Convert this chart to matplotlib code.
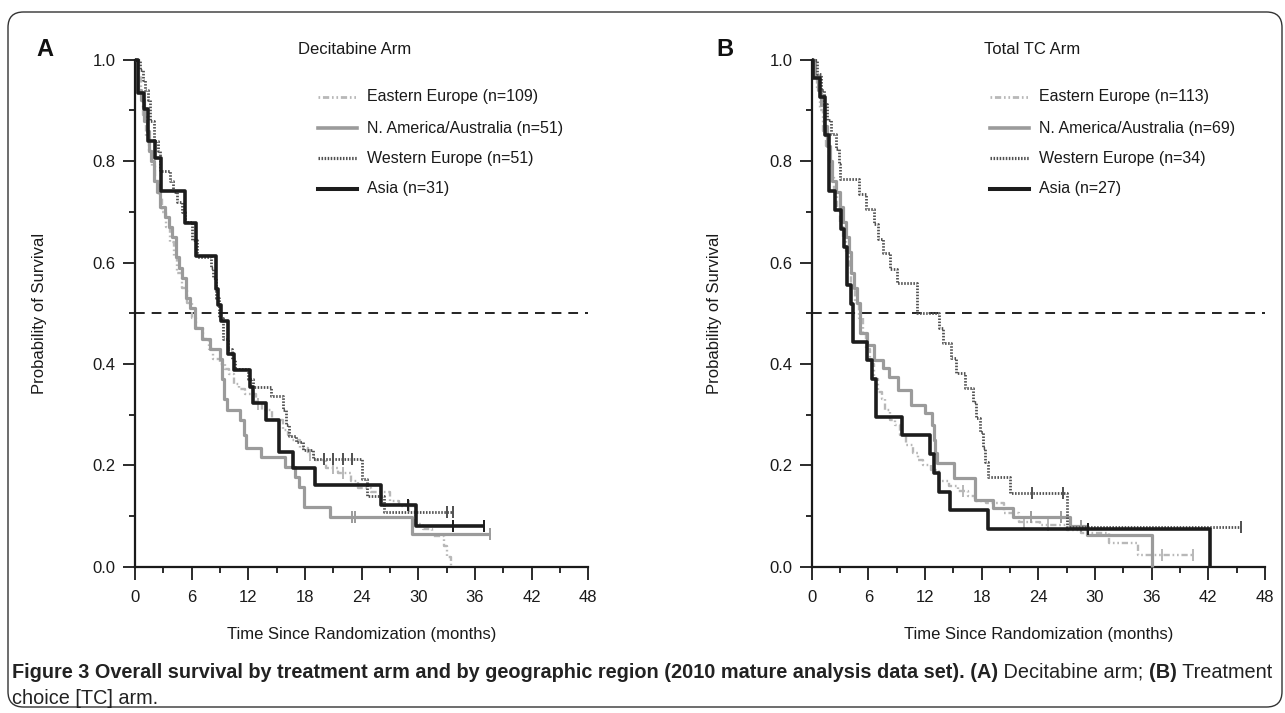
import matplotlib
matplotlib.use("Agg")
import matplotlib.pyplot as plt
import numpy as np
from matplotlib.lines import Line2D
from matplotlib.patches import FancyBboxPatch
from matplotlib import font_manager

plt.rcParams['lines.scale_dashes'] = False

# ---------------- data (Kaplan-Meier step curves) ----------------
x_ticks = [0, 6, 12, 18, 24, 30, 36, 42, 48]
y_ticks = [0.0, 0.2, 0.4, 0.6, 0.8, 1.0]

legend_a = ["Eastern Europe (n=109)", "N. America/Australia (n=51)",
            "Western Europe (n=51)", "Asia (n=31)"]
legend_b = ["Eastern Europe (n=113)", "N. America/Australia (n=69)",
            "Western Europe (n=34)", "Asia (n=27)"]

# Panel A: Decitabine arm
a_ee_t = [0, 0.3, 0.6, 0.9, 1.2, 1.5, 1.8, 2.1, 2.5, 2.9, 3.3, 3.7, 4.1, 4.5, 5.0, 5.5, 6.0, 6.5,
          7.2, 7.8, 8.3, 9.0, 9.5, 10.0, 10.5, 11.0, 11.6, 12.8, 13.5, 14.5, 15.7, 16.2, 16.6,
          17.5, 18.3, 19.1, 20.2, 21.5, 22.9, 23.6, 25.0, 27.0, 28.0, 29.6, 30.5, 31.5, 32.7,
          33.0, 33.5]
a_ee_s = [1.0, 0.97, 0.93, 0.89, 0.85, 0.82, 0.79, 0.76, 0.73, 0.70, 0.67, 0.64, 0.61, 0.58,
          0.55, 0.52, 0.49, 0.47, 0.45, 0.43, 0.41, 0.40, 0.39, 0.38, 0.36, 0.35, 0.34, 0.32,
          0.31, 0.29, 0.27, 0.26, 0.25, 0.235, 0.22, 0.21, 0.195, 0.185, 0.17, 0.155, 0.147,
          0.13, 0.12, 0.085, 0.075, 0.06, 0.04, 0.02, 0.0]
a_ee_end = 33.5
a_ee_cens = [13.0, 18.5, 21.0, 22.0, 26.0, 29.0]

a_na_t = [0, 0.3, 0.6, 1.0, 1.3, 1.5, 1.7, 2.0, 2.3, 2.7, 3.2, 3.6, 3.9, 4.3, 4.7, 5.0, 5.4,
          5.8, 6.35, 7.1, 7.9, 9.0, 9.2, 9.4, 9.7, 11.1, 11.5, 11.8, 13.3, 15.9, 16.9, 17.4,
          17.9, 20.7, 29.3]
a_na_s = [1.0, 0.94, 0.92, 0.88, 0.86, 0.82, 0.80, 0.76, 0.74, 0.71, 0.69, 0.67, 0.65, 0.61,
          0.59, 0.57, 0.53, 0.51, 0.47, 0.45, 0.43, 0.41, 0.37, 0.33, 0.31, 0.29, 0.26, 0.235,
          0.216, 0.196, 0.176, 0.157, 0.118, 0.098, 0.065]
a_na_end = 37.6
a_na_cens = [23.0, 23.3, 37.6]

a_we_t = [0, 0.5, 0.8, 1.1, 1.4, 1.6, 2.0, 2.4, 2.6, 3.7, 4.0, 4.5, 5.0, 5.3, 6.0, 6.6, 8.0,
          8.3, 8.6, 8.9, 9.3, 9.8, 10.3, 10.6, 12.0, 12.5, 14.4, 15.7, 16.0, 16.3, 17.0, 17.8,
          18.8, 24.0, 24.6, 26.4]
a_we_s = [1.0, 0.98, 0.96, 0.94, 0.92, 0.88, 0.84, 0.82, 0.78, 0.76, 0.74, 0.72, 0.70, 0.68,
          0.645, 0.61, 0.59, 0.57, 0.53, 0.49, 0.45, 0.43, 0.41, 0.39, 0.37, 0.355, 0.337, 0.31,
          0.28, 0.258, 0.245, 0.23, 0.213, 0.173, 0.14, 0.108]
a_we_end = 33.7
a_we_cens = [20.0, 21.0, 22.0, 23.0, 33.0, 33.7]

a_as_t = [0, 0.3, 1.0, 1.4, 2.1, 2.8, 5.25, 6.5, 8.55, 8.8, 9.1, 9.9, 10.5, 12.2, 12.5, 13.9,
          15.2, 16.7, 19.1, 26.1, 29.8]
a_as_s = [1.0, 0.935, 0.903, 0.839, 0.806, 0.742, 0.677, 0.613, 0.548, 0.516, 0.484, 0.419,
          0.387, 0.355, 0.323, 0.290, 0.226, 0.194, 0.161, 0.121, 0.081]
a_as_end = 37.0
a_as_cens = [28.9, 33.7, 37.0]

# Panel B: Total TC arm
b_ee_t = [0, 0.3, 0.6, 0.9, 1.2, 1.5, 1.8, 2.1, 2.4, 2.7, 3.0, 3.3, 3.6, 3.9, 4.2, 4.6, 5.0,
          5.4, 5.8, 6.2, 6.6, 7.0, 7.4, 7.8, 8.3, 8.8, 9.4, 10.0, 10.7, 11.3, 11.8, 12.6, 13.5,
          14.5, 15.5, 16.6, 17.3, 18.5, 20.4, 22.0, 24.2, 27.0, 28.5, 31.5, 34.5]
b_ee_s = [1.0, 0.97, 0.94, 0.90, 0.86, 0.83, 0.80, 0.77, 0.74, 0.71, 0.68, 0.65, 0.62, 0.59,
          0.55, 0.52, 0.49, 0.46, 0.43, 0.40, 0.37, 0.345, 0.33, 0.31, 0.29, 0.28, 0.26, 0.24,
          0.225, 0.21, 0.20, 0.19, 0.17, 0.16, 0.15, 0.14, 0.13, 0.125, 0.105, 0.089, 0.082,
          0.072, 0.066, 0.046, 0.023]
b_ee_end = 40.4
b_ee_cens = [16.0, 22.5, 25.0, 37.1, 40.4]

b_na_t = [0, 0.4, 0.7, 1.0, 1.3, 1.6, 1.9, 2.2, 2.6, 3.0, 3.3, 3.6, 3.9, 4.2, 4.5, 4.8, 5.1,
          5.9, 6.6, 7.5, 8.2, 9.1, 10.5, 12.0, 12.7, 12.9, 13.1, 13.3, 15.1, 17.3, 19.2, 21.3,
          27.4, 29.1, 36.0]
b_na_s = [1.0, 0.97, 0.94, 0.91, 0.87, 0.83, 0.80, 0.76, 0.74, 0.71, 0.68, 0.65, 0.62, 0.58,
          0.55, 0.52, 0.46, 0.437, 0.408, 0.391, 0.375, 0.349, 0.319, 0.303, 0.28, 0.25, 0.225,
          0.204, 0.174, 0.132, 0.115, 0.099, 0.08, 0.062, 0.0]
b_na_end = 36.0
b_na_cens = [23.2, 26.4, 28.5]

b_we_t = [0, 0.6, 1.0, 1.3, 1.6, 2.0, 2.6, 2.9, 3.0, 5.0, 5.8, 6.6, 7.0, 7.5, 8.3, 9.0, 11.1,
          13.5, 13.9, 14.7, 15.3, 16.2, 17.1, 17.4, 17.8, 18.1, 18.4, 18.7, 21.0, 27.0]
b_we_s = [1.0, 0.971, 0.941, 0.912, 0.882, 0.853, 0.824, 0.794, 0.765, 0.735, 0.706, 0.676,
          0.647, 0.618, 0.588, 0.559, 0.5, 0.471, 0.441, 0.412, 0.382, 0.353, 0.324, 0.294,
          0.265, 0.235, 0.206, 0.176, 0.145, 0.079]
b_we_end = 45.5
b_we_cens = [23.3, 26.6, 45.5]

b_as_t = [0, 0.15, 0.9, 1.4, 1.85, 2.5, 3.1, 3.45, 3.7, 4.2, 4.4, 5.85, 6.35, 6.8, 9.6, 12.5,
          12.9, 13.5, 14.65, 18.7, 42.2]
b_as_s = [1.0, 0.963, 0.926, 0.852, 0.741, 0.704, 0.667, 0.630, 0.556, 0.519, 0.444, 0.407,
          0.370, 0.296, 0.259, 0.222, 0.185, 0.148, 0.111, 0.074, 0.0]
b_as_end = 42.2
b_as_cens = [29.3]

# ---------------- styles ----------------
styles = [
    dict(color='#b8b8b8', lw=1.7, ls=(0, (1.2, 2.0, 4.5, 2.0, 1.2, 2.0))),
    dict(color='#9b9b9b', lw=2.3, ls='-'),
    dict(color='#505050', lw=2.0, ls=(0, (1.1, 1.1))),
    dict(color='#1c1c1c', lw=2.6, ls='-'),
]

W, H = 1285, 713
fig = plt.figure(figsize=(W / 100, H / 100), dpi=100)


def fx(x):
    return x / W


def fy(y):
    return 1 - y / H


names = {f.name for f in font_manager.fontManager.ttflist}
SANS = 'Liberation Sans'
CAP = 'Liberation Sans Narrow' if 'Liberation Sans Narrow' in names else 'Liberation Sans'

# frame
frame = FancyBboxPatch((fx(8), fy(707)), fx(1282) - fx(8), fy(12) - fy(707),
                       boxstyle="round,pad=0,rounding_size=0.012",
                       transform=fig.transFigure, fill=False, lw=1.0,
                       edgecolor='#333333', mutation_aspect=W / H)
fig.add_artist(frame)


def step_value(t, s, x):
    idx = np.searchsorted(np.asarray(t), np.asarray(x), side='right') - 1
    return np.asarray(s)[idx]


def draw_panel(left_px, curves, labels, title, letter, letter_x, title_x, leg_x, ylabel_x):
    ax = fig.add_axes([fx(left_px), fy(566.7), (453.3) / W, (566.7 - 59.7) / H])
    ax.set_xlim(0, 48)
    ax.set_ylim(0, 1)
    for sp in ['top', 'right']:
        ax.spines[sp].set_visible(False)
    for sp in ['left', 'bottom']:
        ax.spines[sp].set_linewidth(1.6)
        ax.spines[sp].set_color('#1a1a1a')
    ax.set_xticks(x_ticks)
    ax.set_xticks([v + 3 for v in x_ticks[:-1]], minor=True)
    ax.set_yticks(y_ticks)
    ax.set_yticks([v + 0.1 for v in y_ticks[:-1]], minor=True)
    ax.set_yticklabels([f"{v:.1f}" for v in y_ticks])
    ax.tick_params(which='major', length=9, width=1.3, direction='out', color='#1a1a1a',
                   labelsize=12, pad=5)
    ax.tick_params(which='minor', length=4.5, width=1.3, direction='out', color='#1a1a1a')
    ax.tick_params(axis='x', which='major', pad=8)
    for lab in ax.get_xticklabels() + ax.get_yticklabels():
        lab.set_fontfamily(SANS)
        lab.set_color('#1a1a1a')

    ax.axhline(0.5, color='#222222', lw=1.4, ls=(0, (7, 5)), zorder=1)

    for (t, s, end, cens), st in zip(curves, styles):
        tt = list(t) + [end]
        ss = list(s) + [s[-1]]
        ax.plot(tt, ss, drawstyle='steps-post', color=st['color'], lw=st['lw'],
                ls=st['ls'], clip_on=False, zorder=3, solid_capstyle='butt')
        if cens:
            cy = step_value(t, s, cens)
            ax.plot(cens, cy, ls='none', marker='|', ms=8, mew=1.4, color=st['color'],
                    clip_on=False, zorder=3)

    # legend (manual)
    rows = [97, 128, 158, 189]
    for lab, st, ry in zip(labels, styles, rows):
        fig.add_artist(Line2D([fx(leg_x), fx(leg_x + 39)], [fy(ry), fy(ry)],
                              transform=fig.transFigure, color=st['color'],
                              lw=st['lw'] + 0.3, ls=st['ls']))
        fig.text(fx(leg_x + 49), fy(ry), lab, fontsize=11.5, family=SANS, color='#1a1a1a',
                 va='center', ha='left')

    fig.text(fx(title_x), fy(49), title, fontsize=12, family=SANS, color='#1a1a1a',
             va='center', ha='left')
    fig.text(fx(letter_x), fy(49), letter, fontsize=17, family=SANS, weight='bold',
             color='#111111', va='center', ha='left')
    fig.text(fx(left_px + 226.7), fy(635), "Time Since Randomization (months)", fontsize=12,
             family=SANS, color='#1a1a1a', va='center', ha='center')
    fig.text(fx(ylabel_x), fy(313), "Probability of Survival", fontsize=12, family=SANS,
             color='#1a1a1a', va='center', ha='center', rotation=90)
    return ax


curves_a = [(a_ee_t, a_ee_s, a_ee_end, a_ee_cens), (a_na_t, a_na_s, a_na_end, a_na_cens),
            (a_we_t, a_we_s, a_we_end, a_we_cens), (a_as_t, a_as_s, a_as_end, a_as_cens)]
curves_b = [(b_ee_t, b_ee_s, b_ee_end, b_ee_cens), (b_na_t, b_na_s, b_na_end, b_na_cens),
            (b_we_t, b_we_s, b_we_end, b_we_cens), (b_as_t, b_as_s, b_as_end, b_as_cens)]

draw_panel(135, curves_a, legend_a, "Decitabine Arm", "A", 36, 298, 318, 40)
draw_panel(811.7, curves_b, legend_b, "Total TC Arm", "B", 716, 984, 990, 715)

# ---------------- caption with mixed weights ----------------
renderer = fig.canvas.get_renderer()
line1 = [("Figure 3 Overall survival by treatment arm and by geographic region (2010 mature "
          "analysis data set). (A)", 'bold'),
         (" Decitabine arm; ", 'normal'),
         ("(B)", 'bold'),
         (" Treatment", 'normal')]
cap_size = 14.3
xcur = 12
for txt, wt in line1:
    t = fig.text(fx(xcur), fy(672), txt, fontsize=cap_size, family=CAP, weight=wt,
                 color='#222222', va='center', ha='left')
    bb = t.get_window_extent(renderer=renderer)
    xcur = xcur + bb.width
fig.text(fx(12), fy(698), "choice [TC] arm.", fontsize=cap_size, family=CAP, weight='normal',
         color='#222222', va='center', ha='left')

fig.savefig("out.png", dpi=100)
